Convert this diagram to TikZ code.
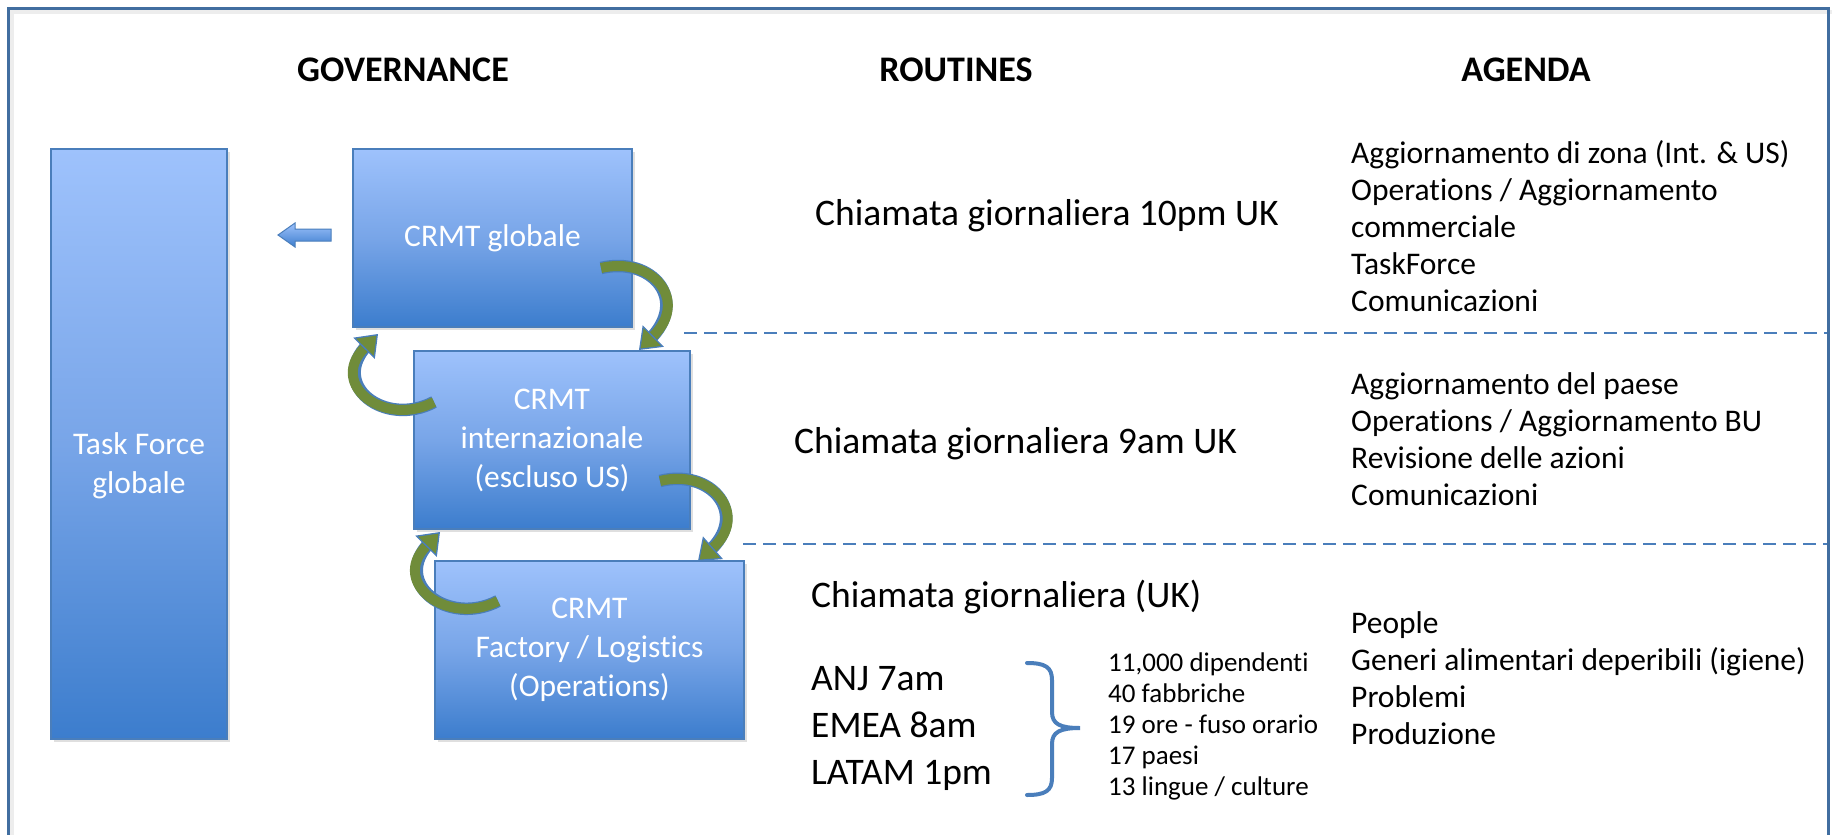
\documentclass[tikz,border=0pt]{standalone}
\usepackage{fontspec}
\setmainfont{Carlito}[Ligatures=NoCommon]
\usetikzlibrary{arrows.meta,shadows}
\definecolor{boxtop}{RGB}{158,194,252}
\definecolor{boxmid}{RGB}{120,165,232}
\definecolor{boxbot}{RGB}{60,125,205}
\definecolor{boxedge}{RGB}{74,126,187}
\definecolor{framecol}{RGB}{65,110,160}
\definecolor{arrowgreen}{RGB}{112,140,58}
\definecolor{dashcol}{RGB}{74,126,187}
\definecolor{bracecol}{RGB}{74,126,187}
\tikzset{
  gbox/.style={draw=boxedge, line width=1.2pt, shading=axis, top color=boxtop, bottom color=boxbot, middle color=boxmid, inner sep=0pt,
    drop shadow={opacity=0.25, shadow xshift=3pt, shadow yshift=-3pt}},
  boxtext/.style={text=white, font=\fontsize{31.5}{39}\selectfont, align=center},
  headtext/.style={font=\bfseries\fontsize{36}{42}\selectfont, inner sep=0pt},
  routine/.style={anchor=west, inner sep=0pt, font=\fontsize{37.5}{47}\selectfont, align=left},
  agendatext/.style={anchor=west, inner sep=0pt, font=\fontsize{31.5}{37}\selectfont, align=left},
  smalltext/.style={anchor=west, inner sep=0pt, font=\fontsize{27}{31}\selectfont, align=left},
  garrowedge/.style={line width=12.5pt, boxedge, shorten >=14pt},
  garrow/.style={line width=10pt, arrowgreen, -{Triangle[length=20pt,width=30pt,line width=1.3pt,color=boxedge,fill=arrowgreen]}},
  sepline/.style={dashcol, line width=2.5pt, dash pattern=on 13pt off 7pt},
}
\begin{document}
\begin{tikzpicture}[x=1pt,y=-1pt]
\useasboundingbox (0,0) rectangle (1834,835);
\fill[white] (0,0) rectangle (1834,835);
% frame
\draw[black!7, line width=4pt] (12,840) -- (12,12) -- (1832,12);
\draw[framecol, line width=3pt] (8,840) -- (8,8) -- (1828,8) -- (1828,840);

% headers
\node[headtext] (hgov) at (403,70) {GOVERNANCE};
\node[headtext] (hrout) at (956,70) {ROUTINES};
\node[headtext] (hag) at (1526,70) {AGENDA};

% boxes
\node[gbox, minimum width=176pt, minimum height=590pt] (tf) at (139,444) {};
\node[boxtext] (tftext) at (139,466) {Task Force\\globale};
\node[gbox, boxtext, minimum width=279pt, minimum height=178pt] (cg) at (492.5,238) {CRMT globale};
\node[gbox, boxtext, minimum width=276pt, minimum height=178pt] (ci) at (552,440) {CRMT\\internazionale\\(escluso US)};
\node[gbox, boxtext, minimum width=309pt, minimum height=178pt] (cf) at (589.5,650) {CRMT\\Factory / Logistics\\(Operations)};

% blue arrow to task force
\draw[boxedge, line width=1pt, shading=axis, top color=boxtop, bottom color=boxbot]
  (278,235) -- (295,223) -- (295,229) -- (331,229) -- (331,241) -- (295,241) -- (295,247) -- cycle;

% green curved arrows
\coordinate (a1s) at (601,268);
\coordinate (a1e) at (639,350);
\draw[garrowedge] (a1s) .. controls (652,256) and (690,300) .. (a1e);
\draw[garrow] (a1s) .. controls (652,256) and (690,300) .. (a1e);
\coordinate (a2s) at (434,402);
\coordinate (a2e) at (378,334);
\draw[garrowedge] (a2s) .. controls (385,428) and (328,385) .. (a2e);
\draw[garrow] (a2s) .. controls (385,428) and (328,385) .. (a2e);
\coordinate (a3s) at (660,481);
\coordinate (a3e) at (698,561);
\draw[garrowedge] (a3s) .. controls (712,468) and (750,515) .. (a3e);
\draw[garrow] (a3s) .. controls (712,468) and (750,515) .. (a3e);
\coordinate (a4s) at (498,601);
\coordinate (a4e) at (440,532);
\draw[garrowedge] (a4s) .. controls (448,627) and (390,583) .. (a4e);
\draw[garrow] (a4s) .. controls (448,627) and (390,583) .. (a4e);

% separators
\draw[sepline] (684,333) -- (1827,333);
\draw[sepline] (743,544) -- (1827,544);

% routines
\node[routine] (r1) at (815,216) {Chiamata giornaliera 10pm UK};
\node[routine] (r2) at (794,444) {Chiamata giornaliera 9am UK};
\node[routine] (r3) at (811,597) {Chiamata giornaliera (UK)};
\node[routine] (zones) at (811,728) {ANJ 7am\\EMEA 8am\\LATAM 1pm};

% brace
\draw[bracecol, line width=4pt, line cap=round]
  (1027,663) .. controls (1045,663) and (1052,667) .. (1052,680) -- (1052,712)
  .. controls (1052,724) and (1060,728) .. (1080,728)
  .. controls (1060,728) and (1052,732) .. (1052,744) -- (1052,778)
  .. controls (1052,791) and (1045,795) .. (1027,795);

\node[smalltext] (facts) at (1108,726) {11,000 dipendenti\\40 fabbriche\\19 ore - fuso orario\\17 paesi\\13 lingue / culture};

% agenda
\node[agendatext] (ag1) at (1351,226) {Aggiornamento di zona (Int. \& US)\\Operations / Aggiornamento\\commerciale\\TaskForce\\Comunicazioni};
\node[agendatext] (ag2) at (1351,439) {Aggiornamento del paese\\Operations / Aggiornamento BU\\Revisione delle azioni\\Comunicazioni};
\node[agendatext] (ag3) at (1351,678) {People\\Generi alimentari deperibili (igiene)\\Problemi\\Produzione};
\end{tikzpicture}
\end{document}
